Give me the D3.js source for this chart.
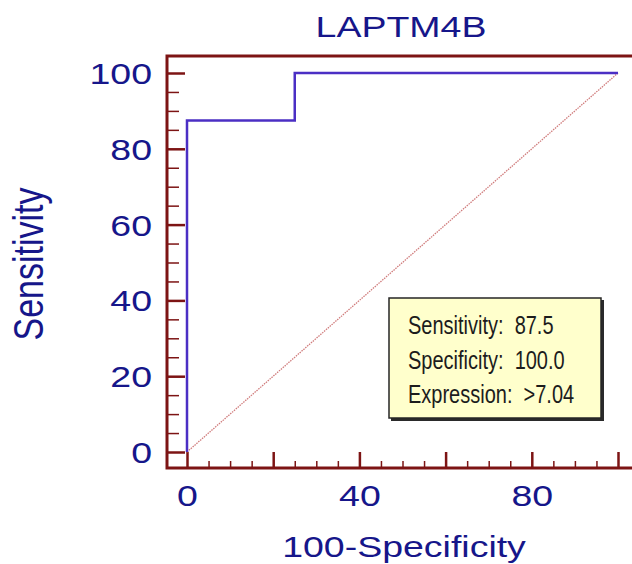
<!DOCTYPE html>
<html>
<head>
<meta charset="utf-8">
<script src="https://cdn.jsdelivr.net/npm/d3@7"></script>
<style>
  body { margin: 0; background: #fff; }
  svg { display: block; }
  .lbl { font-family: "Liberation Sans", Arial, sans-serif; fill: #16168a; }
  .ytick text { transform-box: fill-box; transform-origin: right center; transform: scaleX(1.25); }
  .xtick text { transform-box: fill-box; transform-origin: center; transform: scaleX(1.25); }
</style>
</head>
<body>
<svg id="drawing_region"></svg>
<script>
// ROC curve points (100-Specificity, Sensitivity)
const fpr = [0, 0, 25, 25, 100];
const tpr = [0, 87.5, 87.5, 100, 100];
// reference diagonal
const diagX = [0, 100];
const diagY = [0, 100];

const xMajor = [0, 20, 40, 60, 80, 100];
const xLabelled = [0, 40, 80];
const yMajor = [0, 20, 40, 60, 80, 100];

const title = 'LAPTM4B';
const xTitle = '100-Specificity';
const yTitle = 'Sensitivity';
const legendLabels = ['Sensitivity:', 'Specificity:', 'Expression:'];
const legendValues = ['87.5', '100.0', '>7.04'];

const width = 632, height = 564;
const frameColor = '#7d1414';

const svg = d3.select('#drawing_region')
    .attr('width', width)
    .attr('height', height);

const xscale = d3.scaleLinear().domain([0, 100]).range([187, 618]);
const yscale = d3.scaleLinear().domain([0, 100]).range([452, 73]);

const frameLeft = 167, frameTop = 56, frameBottom = 468;

// frame (left, top and bottom line, right side runs off the picture)
svg.append('path')
    .attr('d', `M${width + 10},${frameTop} H${frameLeft} V${frameBottom} H${width + 10}`)
    .attr('fill', 'none')
    .attr('stroke', frameColor)
    .attr('stroke-width', 3);

const minor = d3.range(0, 101, 5).filter(d => d % 20 !== 0);

// x axis
const xMinorG = svg.append('g')
    .attr('transform', `translate(0,${frameBottom})`)
    .call(d3.axisBottom(xscale).tickValues(minor).tickSize(-7).tickFormat(''));
const xMajorG = svg.append('g')
    .attr('class', 'xtick')
    .attr('transform', `translate(0,${frameBottom})`)
    .call(d3.axisBottom(xscale).tickValues(xMajor).tickSize(-16).tickPadding(17)
        .tickFormat(d => xLabelled.includes(d) ? d : ''));

// y axis
const yMinorG = svg.append('g')
    .attr('transform', `translate(${frameLeft},0)`)
    .call(d3.axisLeft(yscale).tickValues(minor).tickSize(-12).tickFormat(''));
const yMajorG = svg.append('g')
    .attr('class', 'ytick')
    .attr('transform', `translate(${frameLeft},0)`)
    .call(d3.axisLeft(yscale).tickValues(yMajor).tickSize(-18).tickPadding(15));

[xMinorG, xMajorG, yMinorG, yMajorG].forEach(g => {
    g.select('.domain').remove();
    g.selectAll('line').attr('stroke', frameColor);
    g.selectAll('text')
        .attr('class', 'lbl')
        .style('font-size', '30px');
});
xMinorG.selectAll('line').attr('stroke-width', 1.5);
yMinorG.selectAll('line').attr('stroke-width', 1.5);
xMajorG.selectAll('line').attr('stroke-width', 2.5);
yMajorG.selectAll('line').attr('stroke-width', 2.5);
yMajorG.selectAll('text').attr('dy', '0.35em');

// diagonal
const line = d3.line().x(d => xscale(d[0])).y(d => yscale(d[1]));
svg.append('path')
    .attr('d', line(diagX.map((d, i) => [d, diagY[i]])))
    .attr('fill', 'none')
    .attr('stroke', '#d07c7c')
    .attr('stroke-width', 1.3)
    .attr('stroke-dasharray', '1.5,1');

// ROC curve
svg.append('path')
    .attr('d', line(fpr.map((d, i) => [d, tpr[i]])))
    .attr('fill', 'none')
    .attr('stroke', '#4b2fc4')
    .attr('stroke-width', 2.5)
    .attr('stroke-linejoin', 'miter');

// title
svg.append('text')
    .attr('class', 'lbl')
    .attr('transform', 'translate(401,37) scale(1.25,1)')
    .attr('text-anchor', 'middle')
    .style('font-size', '30px')
    .text(title);

// axis titles
svg.append('text')
    .attr('class', 'lbl')
    .attr('transform', 'translate(404,557) scale(1.25,1)')
    .attr('text-anchor', 'middle')
    .style('font-size', '30px')
    .text(xTitle);

svg.append('text')
    .attr('class', 'lbl')
    .attr('transform', 'translate(43,264) scale(1.25,1) rotate(-90)')
    .attr('text-anchor', 'middle')
    .style('font-size', '34px')
    .text(yTitle);

// legend box with a dark drop shadow
const legend = svg.append('g').attr('transform', 'translate(389,298)');
legend.append('rect')
    .attr('x', 2).attr('y', 2)
    .attr('width', 213).attr('height', 121)
    .attr('fill', '#2a2a2a');
legend.append('rect')
    .attr('width', 212).attr('height', 120)
    .attr('fill', '#ffffcc')
    .attr('stroke', '#262626')
    .attr('stroke-width', 1.5);
legend.selectAll('text.item')
    .data(legendLabels)
    .join('text')
    .attr('class', 'item')
    .attr('transform', (d, i) => `translate(19,${36 + i * 34.5}) scale(0.8,1)`)
    .attr('xml:space', 'preserve')
    .style('font-family', '"Liberation Sans", Arial, sans-serif')
    .style('font-size', '25px')
    .attr('fill', '#1c1c1c')
    .text((d, i) => `${d}  ${legendValues[i]}`);
</script>
</body>
</html>
